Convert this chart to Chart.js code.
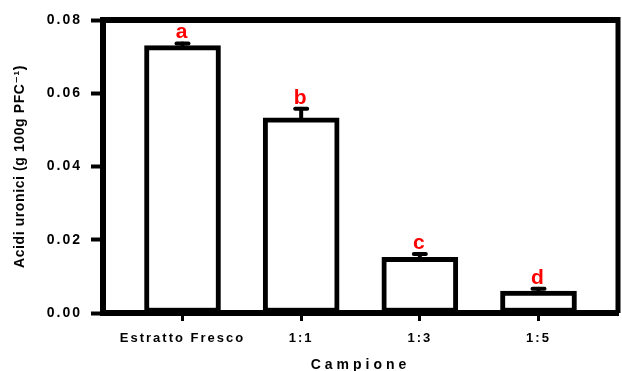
<!DOCTYPE html>
<html>
<head>
<meta charset="utf-8">
<script src="https://cdn.jsdelivr.net/npm/chart.js@4.4.1/dist/chart.umd.min.js"></script>
<style>
  html, body { margin: 0; padding: 0; background: #fff; }
  #wrap { width: 622px; height: 371px; }
</style>
</head>
<body>
<div id="wrap"><canvas id="c" width="622" height="371"></canvas></div>
<script>
// Uronic acid content per sample
const categories = ['Estratto Fresco', '1:1', '1:3', '1:5'];
const values = [0.0730, 0.0533, 0.0152, 0.0060];
const errors = [0.0006, 0.0025, 0.0009, 0.0006];
const letters = ['a', 'b', 'c', 'd'];
const yTicks = [0, 0.02, 0.04, 0.06, 0.08];
const xTitle = 'Campione';
const yTitle = 'Acidi uronici (g 100g PFC\u207B\u00B9)';

const FONT = "'Liberation Sans', Arial, 'DejaVu Sans', sans-serif";

// Tracking used for each piece of axis text
function spacingFor(text) {
  if (text === xTitle) return '4px';
  if (text === yTitle) return '0.6px';
  return '2px';
}

// Error bars, significance letters and the closing top/right frame
const extras = {
  id: 'extras',
  beforeInit(chart) {
    const ctx = chart.ctx;
    const fill = ctx.fillText.bind(ctx);
    const measure = ctx.measureText.bind(ctx);
    ctx.fillText = function (text, x, y, w) {
      const prev = ctx.letterSpacing;
      ctx.letterSpacing = spacingFor(String(text));
      if (w === undefined) fill(text, x, y); else fill(text, x, y, w);
      ctx.letterSpacing = prev;
    };
    ctx.measureText = function (text) {
      const prev = ctx.letterSpacing;
      ctx.letterSpacing = spacingFor(String(text));
      const m = measure(text);
      ctx.letterSpacing = prev;
      return m;
    };
  },
  afterDatasetsDraw(chart) {
    const ctx = chart.ctx;
    const xs = chart.scales.x, ys = chart.scales.y;
    const a = chart.chartArea;
    ctx.save();
    ctx.strokeStyle = '#000';
    ctx.lineCap = 'round';
    values.forEach((v, i) => {
      const x = xs.getPixelForValue(i);
      const yv = ys.getPixelForValue(v);
      const ye = ys.getPixelForValue(v + errors[i]);
      ctx.lineWidth = 4;
      ctx.beginPath();
      ctx.moveTo(x, yv);
      ctx.lineTo(x, ye);
      ctx.stroke();
      ctx.beginPath();
      ctx.moveTo(x - 6, ye);
      ctx.lineTo(x + 6, ye);
      ctx.stroke();
      ctx.fillStyle = '#ff0000';
      ctx.font = 'bold 21px ' + FONT;
      ctx.textAlign = 'center';
      ctx.textBaseline = 'alphabetic';
      ctx.fillText(letters[i], x, ye - 5);
    });
    ctx.lineCap = 'butt';
    ctx.lineWidth = 6;
    ctx.beginPath();
    ctx.moveTo(a.left - 3, a.top);
    ctx.lineTo(a.right, a.top);
    ctx.stroke();
    ctx.lineWidth = 5;
    ctx.beginPath();
    ctx.moveTo(a.right, a.top - 3);
    ctx.lineTo(a.right, a.bottom);
    ctx.stroke();
    ctx.restore();
  }
};

new Chart(document.getElementById('c'), {
  type: 'bar',
  data: {
    datasets: [{
      data: values.map((v, i) => ({ x: i, y: v })),
      backgroundColor: '#ffffff',
      borderColor: '#000000',
      borderWidth: 5,
      borderSkipped: false,
      barThickness: 76
    }]
  },
  options: {
    responsive: false,
    animation: false,
    events: [],
    layout: { padding: { top: 20, right: 4, left: 0, bottom: 0 } },
    plugins: { legend: { display: false }, tooltip: { enabled: false } },
    scales: {
      x: {
        type: 'linear',
        offset: false,
        min: -0.67,
        max: 3.67,
        afterBuildTicks(scale) { scale.ticks = categories.map((_, i) => ({ value: i })); },
        afterFit(scale) { scale.height = 58; },
        border: { display: true, color: '#000', width: 6 },
        grid: { display: true, offset: false, drawOnChartArea: false, color: '#000', tickLength: 8, tickWidth: 3 },
        ticks: {
          color: '#000',
          padding: 10,
          maxRotation: 0,
          autoSkip: false,
          font: { family: FONT, size: 13, weight: 'bold' },
          callback: (v) => categories[v]
        },
        title: {
          display: true,
          text: xTitle,
          color: '#000',
          padding: { top: 0, bottom: -3 },
          font: { family: FONT, size: 14, weight: 'bold' }
        }
      },
      y: {
        min: 0,
        max: 0.08,
        afterBuildTicks(scale) { scale.ticks = yTicks.map(v => ({ value: v })); },
        afterFit(scale) { scale.width = 103; },
        border: { display: true, color: '#000', width: 6 },
        grid: { display: true, drawOnChartArea: false, color: '#000', tickLength: 12, tickWidth: 4 },
        ticks: {
          color: '#000',
          padding: 9,
          font: { family: FONT, size: 14, weight: 'bold' },
          callback: (v) => v.toFixed(2)
        },
        title: {
          display: true,
          text: yTitle,
          color: '#000',
          padding: { top: 12, bottom: 4 },
          font: { family: FONT, size: 14, weight: 'bold' }
        }
      }
    }
  },
  plugins: [extras]
});
</script>
</body>
</html>
